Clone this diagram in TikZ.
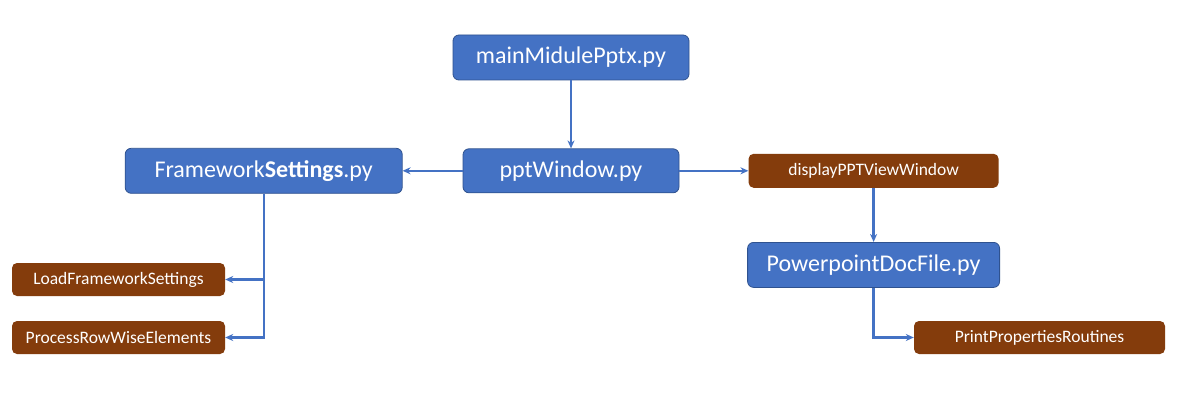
\documentclass[tikz,border=0pt]{standalone}
\usepackage{fontspec}
\setmainfont{Carlito}
\usepackage{tikz}
\usetikzlibrary{arrows.meta,positioning}
\definecolor{modblue}{HTML}{4472C4}
\definecolor{modedge}{HTML}{2F528F}
\definecolor{fnbrown}{HTML}{843C0C}

\begin{document}
\begin{tikzpicture}[x=1pt,y=-1pt,>={Stealth[length=8pt,width=7pt]},
module/.style={draw=modedge,line width=0.8pt,fill=modblue,text=white,rounded corners=6pt,
  align=center,minimum height=45pt,inner sep=0pt,font=\fontsize{24}{28}\selectfont},
func/.style={fill=fnbrown,text=white,rounded corners=5pt,align=center,
  minimum height=33pt,inner sep=0pt,font=\fontsize{17.5}{20}\selectfont},
link/.style={draw=modblue,line width=2.4pt,->}]
\useasboundingbox[fill=white] (0,0) rectangle (1184,401);
\node[module,minimum width=236pt] (main) at (571,57.5) {mainMidulePptx.py};
\node[module,minimum width=216pt,minimum height=44pt,below=68pt of main] (ppt) {pptWindow.py};
\node[module,minimum width=277pt,left=60pt of ppt] (fwset) {Framework\textbf{Settings}.py};
\node[func,minimum width=250pt,minimum height=34pt,right=69pt of ppt] (disp) {displayPPTViewWindow};
\node[module,minimum width=252pt,below=54pt of disp] (pdoc) {PowerpointDocFile.py};
\node[func,minimum width=213pt] (load) at (118.5,279.5) {LoadFrameworkSettings};
\node[func,minimum width=213pt] (proc) at (118.5,337.5) {ProcessRowWiseElements};
\node[func,minimum width=251pt] (prnt) at (1039.5,337.5) {PrintPropertiesRoutines};
\draw[link] (main)--(ppt);
\draw[link] (ppt)--(fwset);
\draw[link] (ppt)--(disp);
\draw[link] (disp)--(disp|-pdoc.north);
\draw[link] (fwset.south)|-(proc);
\draw[link] (fwset.south|-load)--(load);
\draw[link] (pdoc.south)|-(prnt);
\end{tikzpicture}
\end{document}
